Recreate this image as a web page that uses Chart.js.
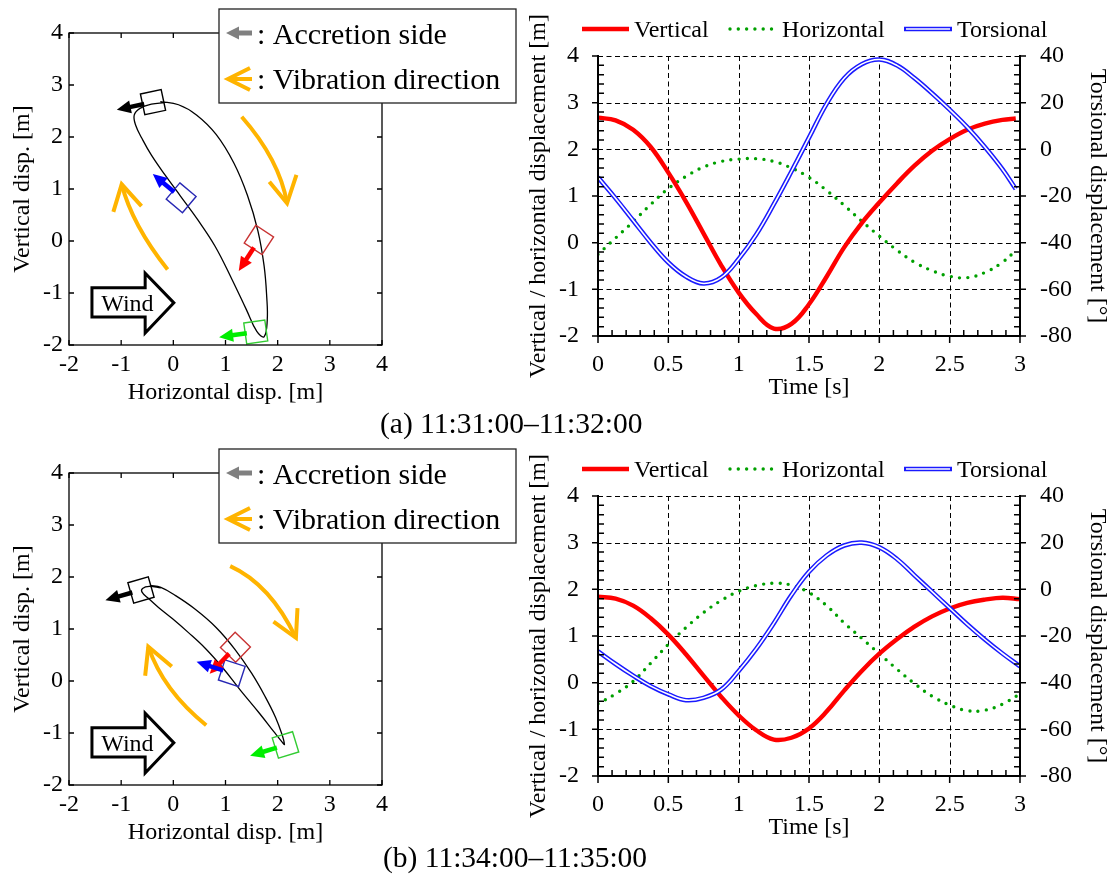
<!DOCTYPE html>
<html>
<head>
<meta charset="utf-8">
<script src="https://cdn.jsdelivr.net/npm/chart.js@4.4.1/dist/chart.umd.min.js"></script>
<style>
  html, body { margin: 0; padding: 0; background: #fff; }
  #page { position: relative; width: 1117px; height: 874px; overflow: hidden;
          font-family: "Liberation Serif", "Times New Roman", serif; color: #000; }
  .panel { position: absolute; }
  .caption { position: absolute; font-size: 29.5px; line-height: 34px; white-space: nowrap; }
</style>
</head>
<body>
<div id="page">
  <div class="panel" style="left:0;top:0;"><canvas id="orbitA" width="520" height="415"></canvas></div>
  <div class="panel" style="left:520px;top:0;"><canvas id="timeA" width="597" height="415"></canvas></div>
  <div class="caption" style="left:380px;top:406px;">(a) 11:31:00–11:32:00</div>
  <div class="panel" style="left:0;top:440px;"><canvas id="orbitB" width="520" height="415"></canvas></div>
  <div class="panel" style="left:520px;top:440px;"><canvas id="timeB" width="597" height="415"></canvas></div>
  <div class="caption" style="left:383px;top:840px;">(b) 11:34:00–11:35:00</div>
</div>
<script>
// ---------- (a) 11:31:00-11:32:00 ----------
const timeA       = [0, 0.125, 0.25, 0.375, 0.5, 0.625, 0.75, 0.875, 1, 1.125, 1.25, 1.375, 1.5,
                     1.625, 1.75, 1.875, 2, 2.125, 2.25, 2.375, 2.5, 2.625, 2.75, 2.875, 2.97];
const verticalA   = [2.68, 2.62, 2.42, 2.05, 1.5, 0.88, 0.2, -0.48, -1.07, -1.53, -1.84, -1.74, -1.32,
                     -0.73, -0.1, 0.42, 0.86, 1.27, 1.65, 1.97, 2.22, 2.42, 2.55, 2.63, 2.66];
const horizontalA = [-0.25, 0.1, 0.45, 0.82, 1.16, 1.42, 1.62, 1.74, 1.79, 1.8, 1.74, 1.6, 1.4,
                     1.12, 0.8, 0.46, 0.14, -0.16, -0.42, -0.6, -0.72, -0.75, -0.64, -0.42, -0.17];
const torsionA    = [-12, -21, -30.5, -40, -48.5, -54.5, -57.5, -55, -47, -36.5, -23.5, -9.5, 5,
                     19.5, 30.5, 36.5, 38.5, 36, 30.5, 24, 17, 9.5, 1, -8.5, -17];

// cable section snapshots on the orbit (horizontal, vertical, torsion in degrees)
const sectionHA = [-0.39, 1.64, 1.58, 0.15];
const sectionVA = [2.67, 0.02, -1.75, 0.83];
const sectionTA = [-12, -57, -8, 40];

// ---------- (b) 11:34:00-11:35:00 ----------
const timeB       = [0, 0.125, 0.25, 0.375, 0.5, 0.625, 0.75, 0.875, 1, 1.125, 1.25, 1.375, 1.5,
                     1.625, 1.75, 1.875, 2, 2.125, 2.25, 2.375, 2.5, 2.625, 2.75, 2.875, 3];
const verticalB   = [1.84, 1.8, 1.65, 1.38, 1.03, 0.61, 0.15, -0.3, -0.7, -1.02, -1.22, -1.18, -0.98,
                     -0.62, -0.17, 0.25, 0.62, 0.93, 1.2, 1.42, 1.59, 1.71, 1.78, 1.82, 1.79];
const horizontalB = [-0.45, -0.24, 0.03, 0.42, 0.82, 1.18, 1.5, 1.76, 1.96, 2.08, 2.13, 2.09, 1.93,
                     1.65, 1.28, 0.95, 0.62, 0.29, -0.02, -0.29, -0.48, -0.6, -0.59, -0.46, -0.24];
const torsionB    = [-26.6, -32, -37, -41.5, -45, -47.5, -46.5, -43, -35, -25.5, -14.5, -2.5, 7.5,
                     14.5, 18.8, 20, 18, 13, 6, -1, -8, -15, -21.5, -27.5, -33];

const sectionHB = [-0.62, 1.19, 2.15, 1.12];
const sectionVB = [1.75, 0.65, -1.23, 0.15];
const sectionTB = [-16, -46, -17, 18];

// snapshot colours: outline of the section, accretion-side arrow
const sectionFrame = ['#000000', '#c83232', '#33cc33', '#2828b4'];
const sectionArrow = ['#000000', '#ff0000', '#00ee00', '#0000ff'];

// ---------- look & feel ----------
const SERIF = '"Liberation Serif", "Times New Roman", serif';
Chart.defaults.font.family = SERIF;
Chart.defaults.font.size = 24;
Chart.defaults.color = '#000';
const ORANGE = '#ffb400';

// vibration-direction sweeps and wind symbol, in orbit axis units
const sweepsA = [
  {from: [1.31, 2.39], via: [1.89, 1.56], to: [2.18, 0.725], barbs: [[1.84, 1.14], [2.36, 1.27]]},
  {from: [-0.11, -0.55], via: [-0.67, 0.29], to: [-0.99, 1.09], barbs: [[-1.15, 0.56], [-0.61, 0.67]]}
];
const sweepsB = [
  {from: [1.09, 2.21], via: [1.79, 1.69], to: [2.35, 0.83], barbs: [[1.92, 1.14], [2.38, 1.40]]},
  {from: [0.63, -0.85], via: [-0.06, -0.14], to: [-0.48, 0.66], barbs: [[-0.54, 0.10], [-0.03, 0.28]]}
];
const windShape = [[-1.56, -0.90], [-0.54, -0.90], [-0.54, -0.62], [0.01, -1.19],
                   [-0.54, -1.77], [-0.54, -1.46], [-1.56, -1.46]];
const windLabelAt = [-0.88, -1.23];

function drawArrow(ctx, x0, y0, ux, uy, color, opts) {
  const o = Object.assign({start: 9, len: 37, head: 14, headW: 13, shaft: 4.5}, opts || {});
  const bx = x0 + ux * (o.len - o.head), by = y0 + uy * (o.len - o.head);
  ctx.save();
  ctx.strokeStyle = color; ctx.fillStyle = color;
  ctx.lineWidth = o.shaft; ctx.lineCap = 'butt';
  ctx.beginPath();
  ctx.moveTo(x0 + ux * o.start, y0 + uy * o.start);
  ctx.lineTo(bx + ux, by + uy);
  ctx.stroke();
  const px = -uy, py = ux;
  ctx.beginPath();
  ctx.moveTo(x0 + ux * o.len, y0 + uy * o.len);
  ctx.lineTo(bx + px * o.headW / 2, by + py * o.headW / 2);
  ctx.lineTo(bx - px * o.headW / 2, by - py * o.headW / 2);
  ctx.closePath();
  ctx.fill();
  ctx.restore();
}

function orbitDecor(sweeps, sections) {
  return {
    id: 'orbitDecor',
    afterDatasetsDraw(chart) {
      const {ctx, chartArea: a, scales: {x, y}} = chart;
      const P = (p) => [x.getPixelForValue(p[0]), y.getPixelForValue(p[1])];
      ctx.save();
      // frame with inward ticks
      ctx.strokeStyle = '#000'; ctx.lineWidth = 1.3;
      ctx.strokeRect(a.left, a.top, a.right - a.left, a.bottom - a.top);
      ctx.beginPath();
      x.ticks.forEach(t => {
        const px = x.getPixelForValue(t.value);
        ctx.moveTo(px, a.bottom); ctx.lineTo(px, a.bottom - 5);
        ctx.moveTo(px, a.top); ctx.lineTo(px, a.top + 5);
      });
      y.ticks.forEach(t => {
        const py = y.getPixelForValue(t.value);
        ctx.moveTo(a.left, py); ctx.lineTo(a.left + 5, py);
        ctx.moveTo(a.right, py); ctx.lineTo(a.right - 5, py);
      });
      ctx.stroke();

      // vibration direction sweeps
      ctx.strokeStyle = ORANGE; ctx.lineWidth = 4; ctx.lineCap = 'butt'; ctx.lineJoin = 'miter';
      sweeps.forEach(s => {
        const f = P(s.from), v = P(s.via), t = P(s.to);
        const cx = 2 * v[0] - (f[0] + t[0]) / 2, cy = 2 * v[1] - (f[1] + t[1]) / 2;
        ctx.beginPath(); ctx.moveTo(f[0], f[1]); ctx.quadraticCurveTo(cx, cy, t[0], t[1]); ctx.stroke();
        const b1 = P(s.barbs[0]), b2 = P(s.barbs[1]);
        ctx.beginPath(); ctx.moveTo(b1[0], b1[1]); ctx.lineTo(t[0], t[1]); ctx.lineTo(b2[0], b2[1]); ctx.stroke();
      });

      // wind symbol
      ctx.beginPath();
      windShape.forEach((p, i) => { const q = P(p); if (i) ctx.lineTo(q[0], q[1]); else ctx.moveTo(q[0], q[1]); });
      ctx.closePath();
      ctx.fillStyle = '#fff'; ctx.fill();
      ctx.strokeStyle = '#000'; ctx.lineWidth = 3; ctx.stroke();
      const wl = P(windLabelAt);
      ctx.fillStyle = '#000'; ctx.font = '24px ' + SERIF;
      ctx.textAlign = 'center'; ctx.textBaseline = 'middle';
      ctx.fillText('Wind', wl[0], wl[1]);

      // accretion-side arrows, turned with the torsion angle
      sections.h.forEach((h, i) => {
        const c = P([h, sections.v[i]]);
        const r = sections.t[i] * Math.PI / 180;
        drawArrow(ctx, c[0], c[1], -Math.cos(r), -Math.sin(r), sectionArrow[i]);
      });
      ctx.restore();
    },
    afterDraw(chart) {
      const ctx = chart.ctx;
      ctx.save();
      ctx.fillStyle = '#fff';
      ctx.fillRect(219, 9, 297, 94);
      ctx.strokeStyle = '#222'; ctx.lineWidth = 1.3;
      ctx.strokeRect(219, 9, 297, 94);
      // grey accretion arrow pointing left
      drawArrow(ctx, 252, 33, -1, 0, '#808080', {start: 0, len: 26, head: 13, headW: 13, shaft: 5});
      // orange open arrow pointing left
      ctx.strokeStyle = ORANGE; ctx.lineWidth = 4;
      ctx.beginPath(); ctx.moveTo(252, 79); ctx.lineTo(228, 79); ctx.stroke();
      ctx.beginPath(); ctx.moveTo(250, 68); ctx.lineTo(228, 79); ctx.lineTo(250, 90); ctx.stroke();
      ctx.fillStyle = '#000'; ctx.font = '30px ' + SERIF;
      ctx.textAlign = 'left'; ctx.textBaseline = 'alphabetic';
      ctx.fillText(': Accretion side', 257, 44);
      ctx.fillText(': Vibration direction', 257, 89);
      ctx.restore();
    }
  };
}

function orbitChart(id, H, V, sections, sweeps) {
  const path = H.map((h, i) => ({x: h, y: V[i]}));
  const snaps = sections.h.map((h, i) => ({x: h, y: sections.v[i]}));
  const noGrid = {display: false, drawTicks: false};
  return new Chart(document.getElementById(id), {
    type: 'scatter',
    data: {datasets: [
      {data: path, showLine: true, borderColor: '#000', borderWidth: 1.3, tension: 0.4, pointRadius: 0, order: 1},
      {data: snaps, showLine: false, pointStyle: 'rect', pointRadius: 15, pointRotation: sections.t,
       pointBorderColor: sectionFrame, pointBackgroundColor: 'rgba(0,0,0,0)', pointBorderWidth: 1.4, order: 0}
    ]},
    options: {
      responsive: false, animation: false, events: [],
      layout: {padding: {left: 0, right: 138, top: 33, bottom: 0}},
      plugins: {legend: {display: false}, tooltip: {enabled: false}},
      scales: {
        x: {type: 'linear', min: -2, max: 4, ticks: {stepSize: 1, padding: 5.6},
            grid: noGrid, border: {display: false},
            title: {display: true, text: 'Horizontal disp. [m]', padding: {top: 0, bottom: 7.6}},
            afterFit(s) { s.height = 70; }},
        y: {type: 'linear', min: -2, max: 4, ticks: {stepSize: 1, padding: 6},
            grid: noGrid, border: {display: false},
            title: {display: true, text: 'Vertical disp. [m]', padding: {top: 8.6, bottom: 0}},
            afterFit(s) { s.width = 69; }}
      }
    },
    plugins: [orbitDecor(sweeps, sections)]
  });
}

const timeFrame = {
  id: 'timeFrame',
  beforeDatasetsDraw(chart) {
    const {ctx, chartArea: a, scales: {x, y}} = chart;
    ctx.save();
    ctx.strokeStyle = '#000'; ctx.lineWidth = 1; ctx.setLineDash([5, 3.5]);
    ctx.beginPath();
    x.ticks.forEach(t => { const px = Math.round(x.getPixelForValue(t.value)) + 0.5; ctx.moveTo(px, a.top); ctx.lineTo(px, a.bottom); });
    y.ticks.forEach(t => { const py = Math.round(y.getPixelForValue(t.value)) + 0.5; ctx.moveTo(a.left, py); ctx.lineTo(a.right, py); });
    ctx.stroke();
    ctx.restore();
  },
  afterDatasetsDraw(chart) {
    const {ctx, chartArea: a, scales: {x, y}} = chart;
    ctx.save();
    ctx.strokeStyle = '#000'; ctx.lineWidth = 2; ctx.lineCap = 'square';
    ctx.beginPath();
    ctx.moveTo(a.left, a.top); ctx.lineTo(a.left, a.bottom); ctx.lineTo(a.right, a.bottom); ctx.lineTo(a.right, a.top);
    ctx.stroke();
    ctx.lineWidth = 1.5; ctx.lineCap = 'butt';
    ctx.beginPath();
    for (let i = 0; i <= 30; i++) {
      const py = y.getPixelForValue(y.min + i * 0.2);
      if (i % 5 === 0) {
        ctx.moveTo(a.left - 6, py); ctx.lineTo(a.left, py);
        ctx.moveTo(a.right, py); ctx.lineTo(a.right + 6, py);
      } else {
        ctx.moveTo(a.left, py); ctx.lineTo(a.left + 6, py);
        ctx.moveTo(a.right, py); ctx.lineTo(a.right - 6, py);
      }
      const px = x.getPixelForValue(x.min + i * 0.1);
      if (i % 5 === 0) { ctx.moveTo(px, a.bottom); ctx.lineTo(px, a.bottom + 7); }
      else { ctx.moveTo(px, a.bottom); ctx.lineTo(px, a.bottom - 6); }
    }
    ctx.stroke();
    ctx.restore();
  },
  afterDraw(chart) {
    const ctx = chart.ctx;
    const ds = chart.data.datasets;
    const yc = 29;
    ctx.save();
    ctx.lineCap = 'butt';
    // Vertical
    ctx.strokeStyle = ds[0].borderColor; ctx.lineWidth = ds[0].borderWidth;
    ctx.beginPath(); ctx.moveTo(62, yc); ctx.lineTo(109, yc); ctx.stroke();
    // Horizontal (dotted)
    ctx.fillStyle = ds[1].borderColor;
    for (let k = 0; k < 6; k++) { ctx.beginPath(); ctx.arc(210 + k * 8.3, yc, 1.7, 0, Math.PI * 2); ctx.fill(); }
    // Torsional (double line)
    ctx.strokeStyle = ds[2].borderColor; ctx.lineWidth = ds[2].borderWidth;
    ctx.beginPath(); ctx.moveTo(384, yc); ctx.lineTo(432, yc); ctx.stroke();
    ctx.strokeStyle = ds[3].borderColor; ctx.lineWidth = ds[3].borderWidth;
    ctx.beginPath(); ctx.moveTo(386, yc); ctx.lineTo(430, yc); ctx.stroke();
    ctx.fillStyle = '#000'; ctx.font = '24px ' + SERIF; ctx.textAlign = 'left'; ctx.textBaseline = 'alphabetic';
    ctx.fillText(ds[0].label, 114, 37);
    ctx.fillText(ds[1].label, 262, 37);
    ctx.fillText(ds[2].label, 437, 37);
    ctx.restore();
  }
};

function seriesPoints(times, values) { return times.map((t, i) => ({x: t, y: values[i]})); }

function timeChart(id, times, vert, horiz, tors) {
  const noGrid = {display: false, drawTicks: false};
  return new Chart(document.getElementById(id), {
    type: 'line',
    data: {datasets: [
      {label: 'Vertical', data: seriesPoints(times, vert), borderColor: '#ff0000', borderWidth: 4.4,
       yAxisID: 'y', order: 2},
      {label: 'Horizontal', data: seriesPoints(times, horiz), borderColor: '#00a000', borderWidth: 3.4,
       borderDash: [0, 8.3], borderCapStyle: 'round', yAxisID: 'y', order: 3},
      {label: 'Torsional', data: seriesPoints(times, tors), borderColor: '#1a1aff', borderWidth: 4.6,
       yAxisID: 'y2', order: 1},
      {label: 'Torsional core', data: seriesPoints(times, tors), borderColor: '#ffffff', borderWidth: 1.6,
       yAxisID: 'y2', order: 0}
    ]},
    options: {
      responsive: false, animation: false, events: [],
      elements: {point: {radius: 0}, line: {tension: 0.4, fill: false}},
      layout: {padding: {left: 0, right: 0, top: 56, bottom: 0}},
      plugins: {legend: {display: false}, tooltip: {enabled: false}},
      scales: {
        x: {type: 'linear', min: 0, max: 3,
            ticks: {stepSize: 0.5, padding: 14.6, callback: v => String(v)},
            grid: noGrid, border: {display: false},
            title: {display: true, text: 'Time [s]', padding: {top: 0, bottom: 12.6}},
            afterFit(s) { s.height = 79; }},
        y: {position: 'left', min: -2, max: 4, ticks: {stepSize: 1, padding: 19},
            grid: noGrid, border: {display: false},
            title: {display: true, text: 'Vertical / horizontal displacement [m]', padding: {top: 4.6, bottom: 0}},
            afterFit(s) { s.width = 78; }},
        y2: {position: 'right', min: -80, max: 40, ticks: {stepSize: 20, padding: 20},
            grid: noGrid, border: {display: false},
            title: {display: true, text: 'Torsional displacement [°]', padding: {top: 5.6, bottom: 0}},
            afterFit(s) { s.width = 97; }}
      }
    },
    plugins: [timeFrame]
  });
}

orbitChart('orbitA', horizontalA, verticalA, {h: sectionHA, v: sectionVA, t: sectionTA}, sweepsA);
timeChart('timeA', timeA, verticalA, horizontalA, torsionA);
orbitChart('orbitB', horizontalB, verticalB, {h: sectionHB, v: sectionVB, t: sectionTB}, sweepsB);
timeChart('timeB', timeB, verticalB, horizontalB, torsionB);
</script>
</body>
</html>
